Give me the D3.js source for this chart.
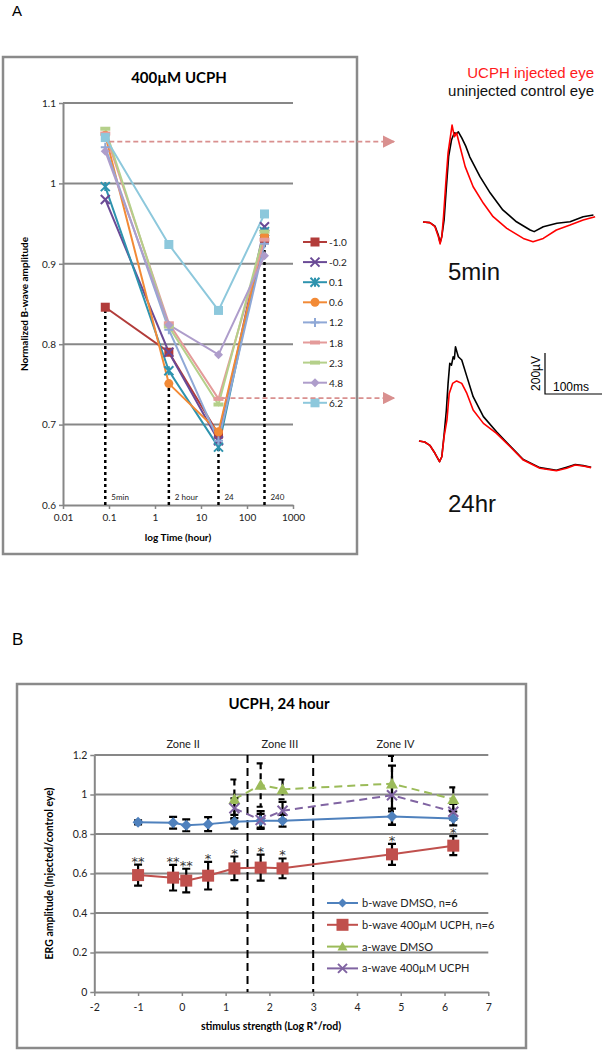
<!DOCTYPE html>
<html><head><meta charset="utf-8">
<script src="https://cdn.jsdelivr.net/npm/d3@7"></script>
<style>body{margin:0;background:#fff}svg{display:block}</style>
</head><body>
<svg id="c" width="602" height="1050"></svg>
<script>
// ---------- Panel A data ----------
const timesA = [0.083, 2, 24, 240];
const timeLabelsA = ["5min", "2 hour", "24", "240"];
const dashTopA = [0.846, 0.751, 0.672, 0.948];
const seriesNamesA = ["-1.0", "-0.2", "0.1", "0.6", "1.2", "1.8", "2.3", "4.8", "6.2"];
const valuesA = [
  [0.846, 0.790, 0.688, 0.930],
  [0.980, 0.790, 0.680, 0.946],
  [0.996, 0.767, 0.672, 0.940],
  [1.060, 0.751, 0.691, 0.935],
  [1.045, 0.818, 0.680, 0.925],
  [1.062, 0.826, 0.732, 0.930],
  [1.068, 0.822, 0.725, 0.940],
  [1.040, 0.824, 0.787, 0.910],
  [1.057, 0.924, 0.842, 0.962]
];
const colorsA = ["#B23C3A", "#6A4A96", "#2E93AE", "#F28A36", "#8FA8D6", "#E49B9A", "#B5D08A", "#AE9DCB", "#8DC8DC"];
const shapesA = ["square", "x", "star", "circle", "plus", "dash", "dash", "diamond", "square"];
const yTicksA = [0.6, 0.7, 0.8, 0.9, 1.0, 1.1];
const xTicksA = [0.01, 0.1, 1, 10, 100, 1000];
const arrowLevelsA = [1.052, 0.733];
const arrowStartA = [0.083, 24];

// ---------- Traces (ms, µV relative to start) ----------
const trace5Black = [[0,0],[12,-3],[21,-20],[27,-65],[30,-100],[33,-70],[37,10],[41,170],[45,320],[50,400],[55,435],[59,430],[62,440],[68,410],[75,370],[82,318],[100,221],[118,141],[140,59],[164,1],[188,-39],[195,-47],[211,-23],[235,-6],[258,1],[281,26],[299,34]];
const trace5Red = [[0,0],[12,-3],[21,-23],[27,-72],[30,-107],[33,-72],[36,26],[40,190],[44,337],[49,434],[51,473],[55,416],[59,434],[65,367],[74,270],[88,172],[106,91],[123,26],[147,-31],[176,-80],[193,-96],[211,-80],[234,-39],[258,-15],[281,10],[302,26]];
const trace24Black = [[0,0],[10,-5],[19,-21],[28,-60],[36,-101],[40,-77],[44,30],[48,150],[51,280],[54,379],[57,370],[60,411],[62,400],[64,460],[67,430],[69,411],[75,395],[84,314],[95,216],[113,119],[136,45],[160,-25],[183,-90],[212,-130],[241,-143],[259,-128],[274,-115],[288,-120],[302,-128]];
const trace24Red = [[0,0],[10,-5],[19,-21],[28,-60],[36,-101],[40,-77],[44,21],[49,102],[53,232],[59,281],[66,293],[75,281],[84,232],[95,151],[113,86],[136,37],[160,-28],[183,-93],[212,-133],[241,-145],[259,-133],[274,-117],[288,-122],[302,-130]];

// ---------- Panel B data ----------
const stimB = [-1, -0.2, 0.1, 0.6, 1.2, 1.8, 2.3, 4.8, 6.2];
const bDMSO = [0.859, 0.857, 0.844, 0.850, 0.862, 0.867, 0.867, 0.888, 0.879];
const bDMSOerr = [0.01, 0.03, 0.03, 0.035, 0.035, 0.035, 0.03, 0.04, 0.035];
const bUCPH = [0.592, 0.579, 0.564, 0.589, 0.626, 0.630, 0.626, 0.697, 0.741];
const bUCPHerr = [0.053, 0.065, 0.060, 0.070, 0.060, 0.066, 0.050, 0.053, 0.048];
const stimA = [1.2, 1.8, 2.3, 4.8, 6.2];
const aDMSO = [0.976, 1.048, 1.026, 1.055, 0.976];
const aDMSOerr = [0.10, 0.11, 0.05, 0.14, 0.06];
const aUCPH = [0.930, 0.871, 0.918, 0.996, 0.913];
const aUCPHerr = [0.05, 0.045, 0.045, 0.15, 0.04];
const starsB = ["**", "**", "**", "*", "*", "*", "*", "*", "*"];
const zoneBounds = [1.5, 3];
const zoneLabels = ["Zone II", "Zone III", "Zone IV"];
const zoneLabelX = [0.03, 2.24, 4.88];
const yTicksB = [0, 0.2, 0.4, 0.6, 0.8, 1.0, 1.2];
const xTicksB = [-2, -1, 0, 1, 2, 3, 4, 5, 6, 7];
const legendB = ["b-wave DMSO, n=6", "b-wave 400µM UCPH, n=6", "a-wave DMSO", "a-wave 400µM UCPH"];
const colorsB = ["#4F81BD", "#C0504D", "#9BBB59", "#8064A2"];

// ---------- helpers ----------
const svg = d3.select("#c");
const FONT = "Lato, 'Open Sans', sans-serif";
const ARIAL = "'Liberation Sans', Arial, sans-serif";
const GRID = "#878787";

function marker(g, shape, x, y, s, color) {
  const h = s / 2;
  if (shape === "square") {
    g.append("rect").attr("x", x - h).attr("y", y - h).attr("width", s).attr("height", s).attr("fill", color);
  } else if (shape === "circle") {
    g.append("circle").attr("cx", x).attr("cy", y).attr("r", h).attr("fill", color);
  } else if (shape === "diamond") {
    g.append("path").attr("d", `M${x},${y-h}L${x+h},${y}L${x},${y+h}L${x-h},${y}Z`).attr("fill", color);
  } else if (shape === "triangle") {
    g.append("path").attr("d", `M${x},${y-h}L${x+h},${y+h*0.8}L${x-h},${y+h*0.8}Z`).attr("fill", color);
  } else if (shape === "x") {
    g.append("path").attr("d", `M${x-h},${y-h}L${x+h},${y+h}M${x-h},${y+h}L${x+h},${y-h}`).attr("stroke", color).attr("stroke-width", 2).attr("fill", "none");
  } else if (shape === "star") {
    g.append("path").attr("d", `M${x-h},${y-h}L${x+h},${y+h}M${x-h},${y+h}L${x+h},${y-h}M${x},${y-h}L${x},${y+h}`).attr("stroke", color).attr("stroke-width", 2).attr("fill", "none");
  } else if (shape === "plus") {
    g.append("path").attr("d", `M${x-h},${y}L${x+h},${y}M${x},${y-h}L${x},${y+h}`).attr("stroke", color).attr("stroke-width", 2).attr("fill", "none");
  } else if (shape === "dash") {
    g.append("rect").attr("x", x - h).attr("y", y - 2).attr("width", s).attr("height", 4).attr("fill", color);
  }
}

// ================= PANEL A =================
svg.append("text").attr("x", 12).attr("y", 16).attr("font-family", ARIAL).attr("font-size", 15).text("A");
svg.append("rect").attr("x", 3).attr("y", 57).attr("width", 354).attr("height", 497)
  .attr("fill", "none").attr("stroke", "#8a8a8a").attr("stroke-width", 2.5);

const xA = d3.scaleLog().domain([0.01, 1000]).range([63, 293]);
const yA = d3.scaleLinear().domain([0.6, 1.1]).range([505, 103]);
const gA = svg.append("g");

gA.append("text").attr("x", 179).attr("y", 83).attr("text-anchor", "middle")
  .attr("font-family", FONT).attr("font-weight", "bold").attr("font-size", 15).text("400µM UCPH");

// gridlines
gA.selectAll(".gridA").data(yTicksA.filter(d => d > 0.6)).enter().append("line")
  .attr("x1", xA(0.01)).attr("x2", xA(1000)).attr("y1", d => yA(d)).attr("y2", d => yA(d))
  .attr("stroke", GRID).attr("stroke-width", 2);

// axes
const axYA = gA.append("g").attr("transform", `translate(${xA(0.01)},0)`)
  .call(d3.axisLeft(yA).tickValues(yTicksA).tickSize(4).tickSizeOuter(0).tickFormat(d => String(+d.toFixed(1))));
const axXA = gA.append("g").attr("transform", `translate(0,${yA(0.6)})`)
  .call(d3.axisBottom(xA).tickValues(xTicksA).tickSize(4).tickSizeOuter(0).tickFormat(d => String(d)));
[axYA, axXA].forEach(a => {
  a.select(".domain").attr("stroke", GRID).attr("stroke-width", 2);
  a.selectAll(".tick line").attr("stroke", GRID).attr("stroke-width", 1.5);
  a.selectAll("text").attr("font-family", FONT).attr("font-size", 10).attr("fill", "#222");
});
axXA.selectAll("text").attr("dy", "0.9em");

gA.append("text").attr("x", 178).attr("y", 541).attr("text-anchor", "middle")
  .attr("font-family", FONT).attr("font-weight", "bold").attr("font-size", 10).text("log Time (hour)");
gA.append("text").attr("transform", `translate(28,${yA(0.85)}) rotate(-90)`).attr("text-anchor", "middle")
  .attr("font-family", FONT).attr("font-weight", "bold").attr("font-size", 10).text("Normalized B-wave amplitude");

// vertical dashed lines
timesA.forEach((t, i) => {
  gA.append("line").attr("x1", xA(t)).attr("x2", xA(t)).attr("y1", yA(0.6)).attr("y2", yA(dashTopA[i]))
    .attr("stroke", "#000").attr("stroke-width", 2.5).attr("stroke-dasharray", "3,3");
  gA.append("text").attr("x", xA(t) + 6).attr("y", 500).attr("font-family", FONT).attr("font-size", 8).attr("fill", "#222")
    .text(timeLabelsA[i]);
});

// series
const lineA = d3.line().x((d, i) => xA(timesA[i])).y(d => yA(d));
valuesA.forEach((vals, k) => {
  gA.append("path").attr("d", lineA(vals)).attr("fill", "none").attr("stroke", colorsA[k]).attr("stroke-width", 2);
});
valuesA.forEach((vals, k) => {
  vals.forEach((v, i) => marker(gA, shapesA[k], xA(timesA[i]), yA(v), shapesA[k] === "dash" ? 10 : 9, colorsA[k]));
});

// legend A
seriesNamesA.forEach((n, k) => {
  const y = 242 + k * 20.1;
  gA.append("line").attr("x1", 303).attr("x2", 327).attr("y1", y).attr("y2", y).attr("stroke", colorsA[k]).attr("stroke-width", 2);
  marker(gA, shapesA[k], 315, y, shapesA[k] === "dash" ? 10 : 9, colorsA[k]);
  gA.append("text").attr("x", 329).attr("y", y + 4).attr("font-family", FONT).attr("font-size", 10).attr("fill", "#222").text(n);
});

// arrows
const defs = svg.append("defs");
defs.append("marker").attr("id", "ah").attr("viewBox", "0 0 10 10").attr("refX", 9).attr("refY", 5)
  .attr("markerWidth", 7).attr("markerHeight", 7).attr("orient", "auto")
  .append("path").attr("d", "M0,0L10,5L0,10Z").attr("fill", "#D9908F");
arrowLevelsA.forEach((v, i) => {
  svg.append("line").attr("x1", xA(arrowStartA[i]) + 4).attr("x2", 394).attr("y1", yA(v)).attr("y2", yA(v))
    .attr("stroke", "#D9908F").attr("stroke-width", 1.8).attr("stroke-dasharray", "5,3").attr("marker-end", "url(#ah)");
});

// ================= TRACES =================
const tx = d3.scaleLinear().domain([0, 100]).range([0, 57]);
const tv = d3.scaleLinear().domain([0, 200]).range([0, -41]);
function drawTrace(data, ox, oy, color) {
  const ln = d3.line().x(d => ox + tx(d[0])).y(d => oy + tv(d[1]));
  svg.append("path").attr("d", ln(data)).attr("fill", "none").attr("stroke", color).attr("stroke-width", 1.6).attr("stroke-linejoin", "round");
}
svg.append("text").attr("x", 594).attr("y", 78).attr("text-anchor", "end").attr("font-family", ARIAL).attr("font-size", 15).attr("fill", "#FF1A1A").text("UCPH injected eye");
svg.append("text").attr("x", 594).attr("y", 96).attr("text-anchor", "end").attr("font-family", ARIAL).attr("font-size", 15).attr("fill", "#111").text("uninjected control eye");
drawTrace(trace5Black, 423, 222, "#000");
drawTrace(trace5Red, 423, 222, "#FF0000");
svg.append("text").attr("x", 448).attr("y", 280).attr("font-family", ARIAL).attr("font-size", 24).attr("fill", "#111").text("5min");
drawTrace(trace24Black, 419, 441, "#000");
drawTrace(trace24Red, 419, 441, "#FF0000");
svg.append("text").attr("x", 448).attr("y", 512).attr("font-family", ARIAL).attr("font-size", 24).attr("fill", "#111").text("24hr");
// scale bar
const sbx = 545, sby = 394;
svg.append("path").attr("d", `M${sbx},${sby + tv(200)}L${sbx},${sby}L${sbx + tx(100)},${sby}`)
  .attr("fill", "none").attr("stroke", "#000").attr("stroke-width", 1.2);
svg.append("text").attr("transform", `translate(${sbx - 5},${sby + tv(100)}) rotate(-90)`).attr("text-anchor", "middle")
  .attr("font-family", ARIAL).attr("font-size", 12).text("200µV");
svg.append("text").attr("x", sbx + 8).attr("y", sby - 3).attr("font-family", ARIAL).attr("font-size", 12).text("100ms");

// ================= PANEL B =================
svg.append("text").attr("x", 12).attr("y", 645).attr("font-family", ARIAL).attr("font-size", 17).text("B");
svg.append("rect").attr("x", 17).attr("y", 684).attr("width", 509).attr("height", 364)
  .attr("fill", "none").attr("stroke", "#8a8a8a").attr("stroke-width", 2.5);

const xB = d3.scaleLinear().domain([-2, 7]).range([94.3, 488.3]);
const yB = d3.scaleLinear().domain([0, 1.2]).range([992, 755]);
const gB = svg.append("g");

gB.append("text").attr("x", 279).attr("y", 709).attr("text-anchor", "middle")
  .attr("font-family", FONT).attr("font-weight", "bold").attr("font-size", 15).text("UCPH, 24 hour");
zoneLabels.forEach((z, i) => {
  gB.append("text").attr("x", xB(zoneLabelX[i])).attr("y", 748).attr("text-anchor", "middle")
    .attr("font-family", FONT).attr("font-size", 11).attr("fill", "#222").text(z);
});

gB.selectAll(".gridB").data(yTicksB.filter(d => d > 0)).enter().append("line")
  .attr("x1", xB(-2)).attr("x2", xB(7)).attr("y1", d => yB(d)).attr("y2", d => yB(d))
  .attr("stroke", GRID).attr("stroke-width", 2);

const axYB = gB.append("g").attr("transform", `translate(${xB(-2)},0)`)
  .call(d3.axisLeft(yB).tickValues(yTicksB).tickSize(4).tickSizeOuter(0).tickFormat(d => String(+d.toFixed(1))));
const axXB = gB.append("g").attr("transform", `translate(0,${yB(0)})`)
  .call(d3.axisBottom(xB).tickValues(xTicksB).tickSize(4).tickSizeOuter(0).tickFormat(d => String(d)));
[axYB, axXB].forEach(a => {
  a.select(".domain").attr("stroke", GRID).attr("stroke-width", 2);
  a.selectAll(".tick line").attr("stroke", GRID).attr("stroke-width", 1.5);
  a.selectAll("text").attr("font-family", FONT).attr("font-size", 10.5).attr("fill", "#222");
});
axXB.selectAll("text").attr("dy", "1.1em");

gB.append("text").attr("x", 271).attr("y", 1030).attr("text-anchor", "middle")
  .attr("font-family", FONT).attr("font-weight", "bold").attr("font-size", 10.5).text("stimulus strength (Log R*/rod)");
gB.append("text").attr("transform", `translate(53,${yB(0.6)}) rotate(-90)`).attr("text-anchor", "middle")
  .attr("font-family", FONT).attr("font-weight", "bold").attr("font-size", 10.5).text("ERG amplitude (Injected/control eye)");

// zone boundaries
zoneBounds.forEach(z => {
  gB.append("line").attr("x1", xB(z)).attr("x2", xB(z)).attr("y1", yB(1.2)).attr("y2", yB(0))
    .attr("stroke", "#000").attr("stroke-width", 2).attr("stroke-dasharray", "8,5");
});

function errBars(xs, ys, es, dashed) {
  xs.forEach((x, i) => {
    const px = xB(x), t = yB(ys[i] + es[i]), b = yB(ys[i] - es[i]);
    const p = gB.append("path").attr("d", `M${px},${t}L${px},${b}M${px - 4},${t}L${px + 4},${t}M${px - 4},${b}L${px + 4},${b}`)
      .attr("fill", "none").attr("stroke", "#000").attr("stroke-width", 2.2);
    if (dashed) p.attr("stroke-dasharray", "6,4");
  });
}
const lineB = xs => d3.line().x((d, i) => xB(xs[i])).y(d => yB(d));

// series lines
gB.append("path").attr("d", lineB(stimB)(bDMSO)).attr("fill", "none").attr("stroke", colorsB[0]).attr("stroke-width", 2);
gB.append("path").attr("d", lineB(stimB)(bUCPH)).attr("fill", "none").attr("stroke", colorsB[1]).attr("stroke-width", 2);
gB.append("path").attr("d", lineB(stimA)(aDMSO)).attr("fill", "none").attr("stroke", colorsB[2]).attr("stroke-width", 2).attr("stroke-dasharray", "8,5");
gB.append("path").attr("d", lineB(stimA)(aUCPH)).attr("fill", "none").attr("stroke", colorsB[3]).attr("stroke-width", 2).attr("stroke-dasharray", "8,5");

errBars(stimB, bDMSO, bDMSOerr, false);
errBars(stimB, bUCPH, bUCPHerr, false);
errBars(stimA, aDMSO, aDMSOerr, true);
errBars(stimA, aUCPH, aUCPHerr, false);

stimB.forEach((x, i) => marker(gB, "diamond", xB(x), yB(bDMSO[i]), 11, colorsB[0]));
stimB.forEach((x, i) => marker(gB, "square", xB(x), yB(bUCPH[i]), 12, colorsB[1]));
stimA.forEach((x, i) => marker(gB, "triangle", xB(x), yB(aDMSO[i]), 12, colorsB[2]));
stimA.forEach((x, i) => marker(gB, "x", xB(x), yB(aUCPH[i]), 10, colorsB[3]));

// significance stars
stimB.forEach((x, i) => {
  gB.append("text").attr("x", xB(x)).attr("y", yB(bUCPH[i] + bUCPHerr[i]) + 1).attr("text-anchor", "middle")
    .attr("font-family", "'DejaVu Sans', sans-serif").attr("font-size", 13).attr("fill", "#333").text(starsB[i]);
});

// legend B
const shapesB = ["diamond", "square", "triangle", "x"];
const sizesB = [9, 12, 10, 9];
legendB.forEach((n, k) => {
  const y = 903 + k * 21.8;
  gB.append("line").attr("x1", 327).attr("x2", 358).attr("y1", y).attr("y2", y).attr("stroke", colorsB[k]).attr("stroke-width", 2);
  marker(gB, shapesB[k], 342.5, y, sizesB[k], colorsB[k]);
  gB.append("text").attr("x", 362).attr("y", y + 4).attr("font-family", FONT).attr("font-size", 11).attr("fill", "#222").text(n);
});
</script>
</body></html>
